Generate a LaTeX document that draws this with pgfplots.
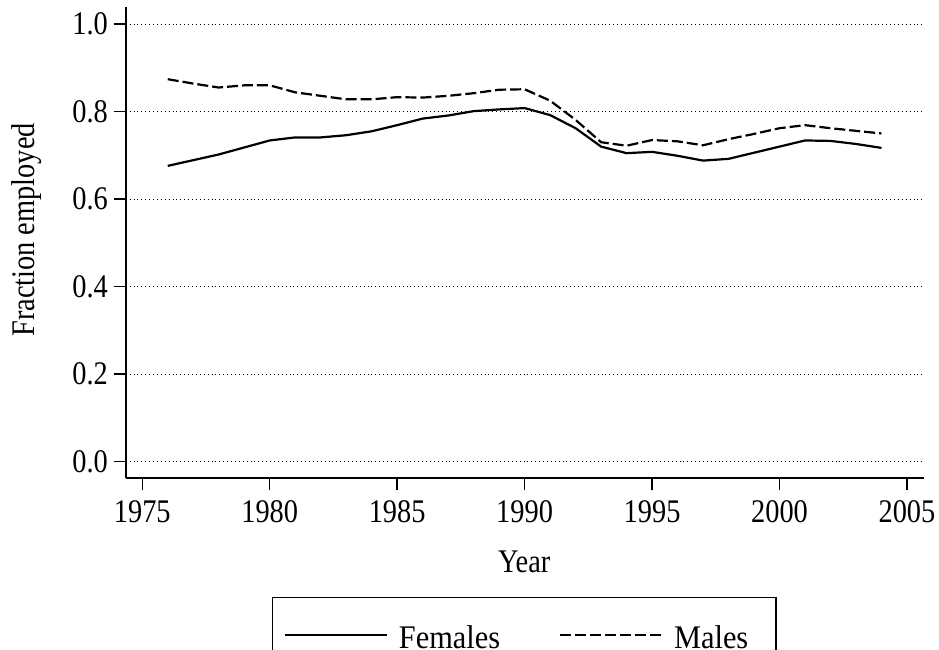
\documentclass[border=0pt]{standalone}
\usepackage{fontspec}
\setmainfont{Liberation Serif}[FakeStretch=0.86]
\newfontfamily\legfont{Liberation Serif}[FakeStretch=0.92]
\usepackage{pgfplots}
\pgfplotsset{compat=1.18}
\newcommand{\bigfont}{\fontsize{33}{40}\selectfont}
\begin{document}
\begin{tikzpicture}
\useasboundingbox (0,0) rectangle (939pt,649pt);
\begin{axis}[
  at={(125.7pt,170.7pt)}, anchor=south west,
  scale only axis, width=798.6pt, height=471.3pt,
  xmin=1974.35, xmax=2005.68, ymin=-0.038, ymax=1.039,
  axis x line*=bottom, axis y line*=left,
  axis line style={line width=2pt, -},
  xtick={1975,1980,1985,1990,1995,2000,2005},
  ytick={0,0.2,0.4,0.6,0.8,1.0},
  tick align=outside, major tick length=12pt,
  every tick/.style={black, line width=1.5pt},
  /pgf/number format/assume math mode=true,
  xticklabel style={/pgf/number format/1000 sep={}, anchor=north, inner sep=0pt, yshift=-9.7pt, font=\bigfont},
  yticklabel style={/pgf/number format/.cd, fixed, fixed zerofill, precision=1, /tikz/.cd, anchor=east, inner sep=0pt, xshift=-5.7pt, font=\bigfont},
  ymajorgrids,
  major grid style={black, line width=0.9pt, dash pattern=on 0.9pt off 3pt},
  xlabel={Year}, ylabel={Fraction employed},
  xlabel style={at={(axis description cs:0.499,-0.2003)}, anchor=base, inner sep=0pt, font=\bigfont},
  ylabel style={at={(axis description cs:-0.1136,0.527)}, anchor=base, inner sep=0pt, font=\bigfont},
  legend columns=2,
  legend image code/.code={\path (0pt,0pt); \draw[#1] (0pt,13pt) -- (101.7pt,13pt);},
  legend style={at={(axis description cs:0.499,-0.2512)}, anchor=north, draw=black, line width=1.5pt,
    inner xsep=11.7pt, inner ysep=26pt, font=\legfont\fontsize{33}{40}\selectfont,
    cells={anchor=base west, inner sep=0pt},
    /tikz/every odd column/.append style={column sep=9pt},
    /tikz/every even column/.append style={column sep=58.3pt}},
]
\addplot[black, line width=2.2pt] coordinates {
(1976,0.676) (1977,0.689) (1978,0.702) (1979,0.718) (1980,0.734)
(1981,0.741) (1982,0.741) (1983,0.746) (1984,0.755) (1985,0.769)
(1986,0.784) (1987,0.791) (1988,0.801) (1989,0.805) (1990,0.808)
(1991,0.792) (1992,0.762) (1993,0.720) (1994,0.705) (1995,0.708)
(1996,0.699) (1997,0.688) (1998,0.692) (1999,0.706) (2000,0.720)
(2001,0.734) (2002,0.733) (2003,0.726) (2004,0.717)};
\addlegendentry{\makebox[100pt][l]{Females}}
\addplot[black, line width=2.2pt, dash pattern=on 11pt off 4pt] coordinates {
(1976,0.874) (1977,0.864) (1978,0.855) (1979,0.860) (1980,0.860)
(1981,0.844) (1982,0.836) (1983,0.828) (1984,0.828) (1985,0.833)
(1986,0.832) (1987,0.836) (1988,0.842) (1989,0.850) (1990,0.851)
(1991,0.825) (1992,0.781) (1993,0.730) (1994,0.722) (1995,0.735)
(1996,0.732) (1997,0.723) (1998,0.737) (1999,0.749) (2000,0.762)
(2001,0.769) (2002,0.762) (2003,0.756) (2004,0.750)};
\addlegendentry{\makebox[88.3pt][l]{Males}}
\end{axis}
\end{tikzpicture}
\end{document}
